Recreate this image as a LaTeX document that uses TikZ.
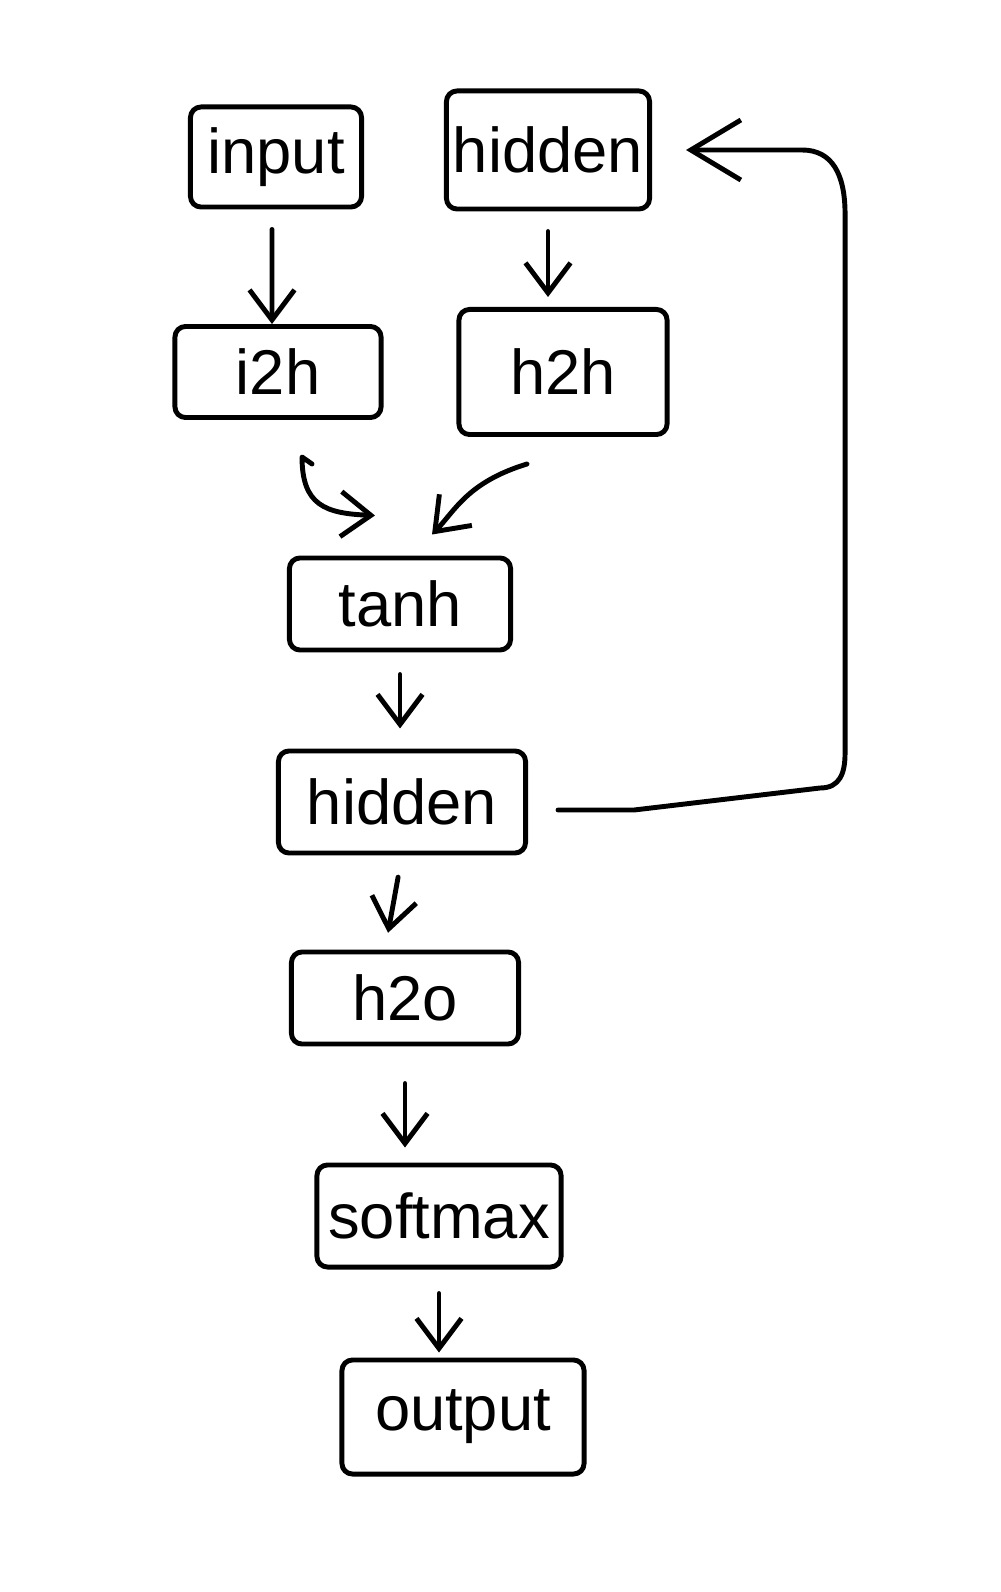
\documentclass[tikz,border=0pt]{standalone}
\usepackage{fontspec}
\setmainfont{Liberation Sans}
\usetikzlibrary{arrows.meta}
\begin{document}
\begin{tikzpicture}[x=0.01cm,y=0.01cm,
  line width=1.4pt, line cap=round, line join=round,
  box/.style={draw, rounded corners=3pt, inner sep=0pt, font=\fontsize{18}{20}\selectfont},
  arr/.style={-{Straight Barb[length=3mm,width=4.5mm]}},
  bigarr/.style={-{Straight Barb[length=5mm,width=6mm]}}]
\useasboundingbox (0,0) rectangle (1000,-1592);
\node[box, minimum width=1.71cm, minimum height=1.00cm] (input) at (276,-157) {input};
\node[box, minimum width=2.03cm, minimum height=1.18cm] (hid1) at (548,-150) {hidden};
\node[box, minimum width=2.06cm, minimum height=0.91cm] (i2h) at (278,-372) {i2h};
\node[box, minimum width=2.08cm, minimum height=1.25cm] (h2h) at (563,-372) {h2h};
\node[box, minimum width=2.21cm, minimum height=0.92cm] (tanh) at (400,-604) {tanh};
\node[box, minimum width=2.47cm, minimum height=1.02cm] (hid2) at (402,-802) {hidden};
\node[box, minimum width=2.27cm, minimum height=0.92cm] (h2o) at (405,-998) {h2o};
\node[box, minimum width=2.44cm, minimum height=1.02cm] (soft) at (439,-1216) {softmax};
\node[box, minimum width=2.42cm, minimum height=1.14cm] (out) at (463,-1417) {output};
% vertical arrows
\draw[arr, shorten <=0.20cm] ([xshift=-0.04cm]input.south) -- ([xshift=-0.06cm]i2h.north);
\draw[arr, shorten <=0.20cm, shorten >=0.10cm] (hid1.south) -- (hid1.south |- h2h.north);
\draw[arr, shorten <=0.22cm, shorten >=0.20cm] (tanh.south) -- (tanh.north |- hid2.north);
\draw[arr, shorten <=0.22cm, shorten >=0.17cm] (hid2.south) -- ([xshift=-0.20cm]h2o.north);
\draw[arr, shorten <=0.37cm, shorten >=0.15cm] (h2o.south) -- (h2o.south |- soft.north);
\draw[arr, shorten <=0.24cm, shorten >=0.05cm] (soft.south) -- (soft.south |- out.north);
% curved arrows into tanh
\draw[arr] ([shift={(0.34cm,-0.44cm)}]i2h.south) -- ([shift={(0.24cm,-0.37cm)}]i2h.south)
  .. controls ([shift={(0.24cm,-0.85cm)}]i2h.south) and ([shift={(-0.75cm,0.42cm)}]tanh.north) .. ([shift={(-0.25cm,0.40cm)}]tanh.north);
\draw[arr] ([shift={(-0.36cm,-0.27cm)}]h2h.south) .. controls ([shift={(-0.95cm,-0.45cm)}]h2h.south) and ([shift={(0.55cm,0.45cm)}]tanh.north) .. ([shift={(0.32cm,0.21cm)}]tanh.north);
% feedback loop
\coordinate (fb) at ([shift={(0.30cm,-0.08cm)}]hid2.east);
\coordinate (fbend) at ([xshift=0.34cm]hid1.east);
\draw[bigarr] (fb) -- ++(76,0) -- ++(186,22)
  .. controls ++(20,0) and ++(0,-20) .. ++(25,35) -- ++(0,539)
  .. controls ++(0,40) and ++(30,0) .. ++(-43,64) -- (fbend);
\end{tikzpicture}
\end{document}
